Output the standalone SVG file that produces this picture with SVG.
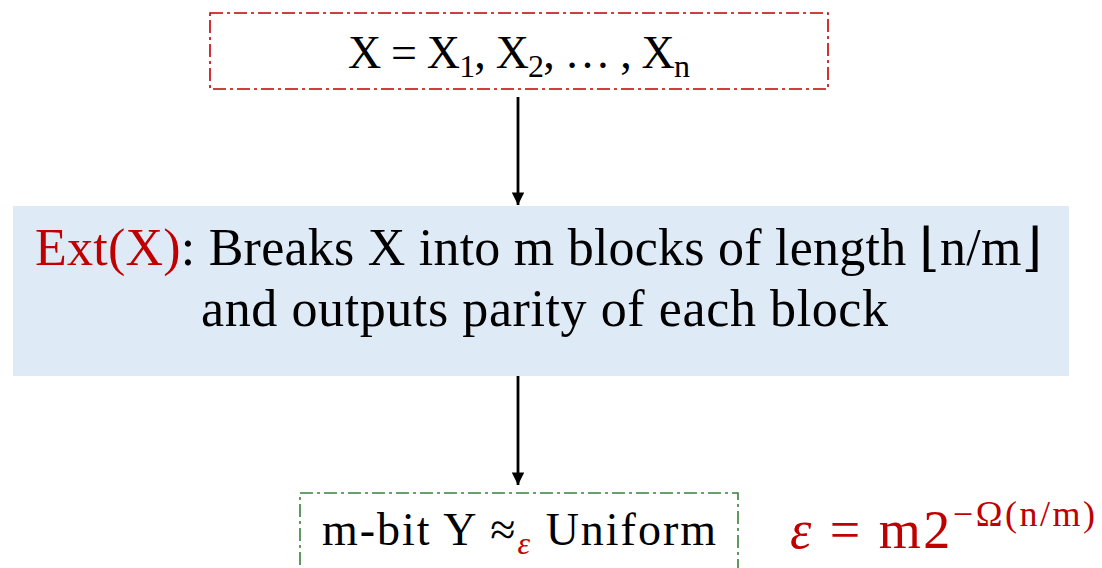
<svg xmlns="http://www.w3.org/2000/svg" width="1102" height="568" viewBox="0 0 1102 568">
<style>
text{font-family:"Liberation Serif","DejaVu Serif",serif;fill:#000}
.red{fill:#C00000}
.dd{fill:none;stroke-width:1.6;stroke-dasharray:13 4 3 4}
.conn{stroke:#000;stroke-width:2.8;fill:none}
</style>
<defs>
<marker id="ah" viewBox="0 0 10 10" refX="10" refY="5" markerWidth="4.5" markerHeight="4.5" orient="auto" markerUnits="strokeWidth">
<path d="M0,0 L10,5 L0,10 z" fill="#000"/>
</marker>
</defs>
<rect width="1102" height="568" fill="#fff"/>
<g id="input">
<rect class="dd" x="210" y="13" width="618" height="76" stroke="#C00000"/>
<text x="348" y="68" font-size="46" textLength="342" lengthAdjust="spacing">X = X<tspan font-size="32" dy="9">1</tspan><tspan dy="-9">, X</tspan><tspan font-size="32" dy="9">2</tspan><tspan dy="-9">, … , X</tspan><tspan font-size="32" dy="9">n</tspan></text>
</g>
<g id="ext">
<rect x="13" y="206" width="1056" height="170" fill="#DEEAF6"/>
<text x="35" y="265" font-size="52" textLength="1007" lengthAdjust="spacing"><tspan class="red">Ext(X)</tspan>: Breaks X into m blocks of length ⌊n/m⌋</text>
<text x="201" y="326" font-size="52" textLength="687" lengthAdjust="spacing">and outputs parity of each block</text>
</g>
<g id="output">
<rect class="dd" x="300" y="493" width="438" height="90" stroke="#38803A"/>
<text x="322" y="545" font-size="46" textLength="394" lengthAdjust="spacing">m-bit Y ≈<tspan class="red" font-size="32" dy="9" font-style="italic">ε</tspan><tspan dy="-9"> Uniform</tspan></text>
</g>
<g id="error">
<text x="790" y="548" font-size="54" class="red" textLength="305" lengthAdjust="spacing"><tspan font-style="italic">ε</tspan> = m2<tspan font-size="36" dy="-22">−Ω(n/m)</tspan></text>
</g>
<g id="connectors">
<line class="conn" x1="518" y1="97" x2="518" y2="205" marker-end="url(#ah)"/>
<line class="conn" x1="518" y1="376" x2="518" y2="485" marker-end="url(#ah)"/>
</g>
</svg>
